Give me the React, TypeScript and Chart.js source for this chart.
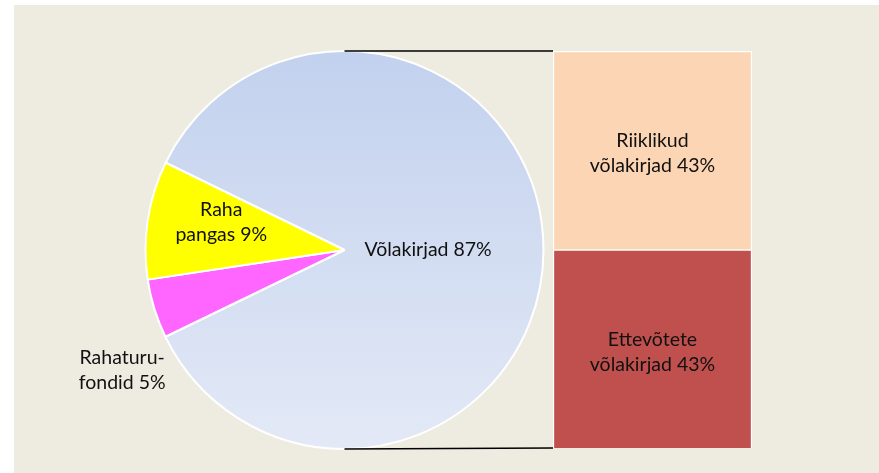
import React, { useEffect, useRef } from 'react';
import { Chart, registerables } from 'chart.js';
Chart.register(...registerables);

// ---- data ----
const pieCategories = ['Võlakirjad', 'Rahaturu-\nfondid', 'Raha\npangas'];
const pieValues = [85.6, 4.8, 9.6]; // slice sizes
const pieLabelPercents = [87, 5, 9]; // percentages printed on the chart
const barCategories = ['Ettevõtete\nvõlakirjad', 'Riiklikud\nvõlakirjad'];
const barValues = [43, 43];

// ---- style ----
const FONT = '19.5px Lato, "Open Sans", sans-serif';
const TEXT = '#111111';
const BG = '#EEECE1';
const pieColors = ['gradient', '#FF66FF', '#FFFF00'];
const barColors = ['#C0504D', '#FCD5B4'];
const pieLabelRadius = [0.42, 1.27, 0.635];
const pieLabelAngleShift = [0, -11.2, 4];
const LINE_H = 25;

function labelLines(cat: string, v: number): string[] {
  const lines = cat.split('\n');
  lines[lines.length - 1] += ` ${v}%`;
  return lines;
}

function drawLines(ctx: CanvasRenderingContext2D, lines: string[], x: number, y: number) {
  ctx.save();
  ctx.font = FONT;
  ctx.fillStyle = TEXT;
  ctx.textAlign = 'center';
  ctx.textBaseline = 'middle';
  const y0 = y - ((lines.length - 1) * LINE_H) / 2;
  lines.forEach((l, i) => ctx.fillText(l, x, y0 + i * LINE_H));
  ctx.restore();
}

export default function App() {
  const pieRef = useRef<HTMLCanvasElement>(null);
  const barRef = useRef<HTMLCanvasElement>(null);

  useEffect(() => {
    const W = 879, H = 473;
    const bgPlugin = {
      id: 'bg',
      beforeDraw(chart: any) {
        const c = chart.ctx;
        c.save();
        c.fillStyle = BG;
        c.fillRect(14, 5, W - 14, H - 5);
        c.restore();
      },
    };
    const pieLabelPlugin = {
      id: 'pieLabels',
      afterDatasetsDraw(chart: any) {
        const meta = chart.getDatasetMeta(0);
        meta.data.forEach((arc: any, i: number) => {
          const p = arc.getProps(['x', 'y', 'startAngle', 'endAngle', 'outerRadius']);
          const mid = (p.startAngle + p.endAngle) / 2 + (pieLabelAngleShift[i] * Math.PI) / 180;
          const r = p.outerRadius * pieLabelRadius[i];
          drawLines(chart.ctx, labelLines(pieCategories[i], pieLabelPercents[i]), p.x + Math.cos(mid) * r, p.y + Math.sin(mid) * r);
        });
      },
    };

    const pie = new Chart(pieRef.current!, {
      type: 'pie',
      data: {
        labels: pieCategories,
        datasets: [
          {
            data: pieValues,
            backgroundColor: (ctx: any) => {
              const col = pieColors[ctx.dataIndex];
              if (col !== 'gradient') return col;
              const area = ctx.chart.chartArea;
              if (!area) return '#D4DDF1';
              const g = ctx.chart.ctx.createLinearGradient(0, area.top, 0, area.bottom);
              g.addColorStop(0, '#C2D1EE');
              g.addColorStop(1, '#E3E9F6');
              return g;
            },
            borderColor: '#FFFFFF',
            borderWidth: 2,
          },
        ],
      },
      options: {
        responsive: false,
        animation: false,
        events: [],
        rotation: -64,
        layout: { padding: { left: 144, right: 334, top: 50, bottom: 23 } },
        plugins: { legend: { display: false }, tooltip: { enabled: false } },
      },
      plugins: [bgPlugin, pieLabelPlugin],
    });

    const barPlugin = {
      id: 'barExtras',
      afterDatasetsDraw(chart: any) {
        const c = chart.ctx;
        const pm = pie.getDatasetMeta(0).data[0] as any;
        const pp = pm.getProps(['x', 'y', 'outerRadius']);
        const top = chart.getDatasetMeta(1).data[0].getProps(['x', 'y', 'width']);
        const bot = chart.getDatasetMeta(0).data[0].getProps(['x', 'y', 'base', 'width']);
        c.save();
        c.strokeStyle = '#000000';
        c.lineWidth = 1.6;
        c.beginPath();
        c.moveTo(pp.x, pp.y - pp.outerRadius);
        c.lineTo(top.x - top.width / 2, top.y);
        c.moveTo(pp.x, pp.y + pp.outerRadius);
        c.lineTo(bot.x - bot.width / 2, bot.base);
        c.stroke();
        c.restore();
        barCategories.forEach((cat, i) => {
          const el = chart.getDatasetMeta(i).data[0].getProps(['x', 'y', 'base']);
          drawLines(c, labelLines(cat, barValues[i]), el.x, (el.y + el.base) / 2 + 3);
        });
      },
    };

    const total = barValues.reduce((a, b) => a + b, 0);
    const bar = new Chart(barRef.current!, {
      type: 'bar',
      data: {
        labels: [''],
        datasets: barCategories.map((cat, i) => ({
          label: cat,
          data: [barValues[i]],
          backgroundColor: barColors[i],
          borderColor: '#FFFFFF',
          borderWidth: 1.5,
          barPercentage: 1,
          categoryPercentage: 1,
        })),
      },
      options: {
        responsive: false,
        animation: false,
        events: [],
        layout: { padding: { left: 553, right: 127, top: 51, bottom: 25 } },
        scales: {
          x: { display: false, stacked: true },
          y: { display: false, stacked: true, min: 0, max: total },
        },
        plugins: { legend: { display: false }, tooltip: { enabled: false } },
      },
      plugins: [barPlugin],
    });

    return () => {
      bar.destroy();
      pie.destroy();
    };
  }, []);

  const abs: React.CSSProperties = { position: 'absolute', left: 0, top: 0 };
  return (
    <div style={{ position: 'absolute', left: 0, top: 0, width: 879, height: 473, background: '#FFFFFF' }}>
      <canvas ref={pieRef} width={879} height={473} style={abs} />
      <canvas ref={barRef} width={879} height={473} style={abs} />
    </div>
  );
}
